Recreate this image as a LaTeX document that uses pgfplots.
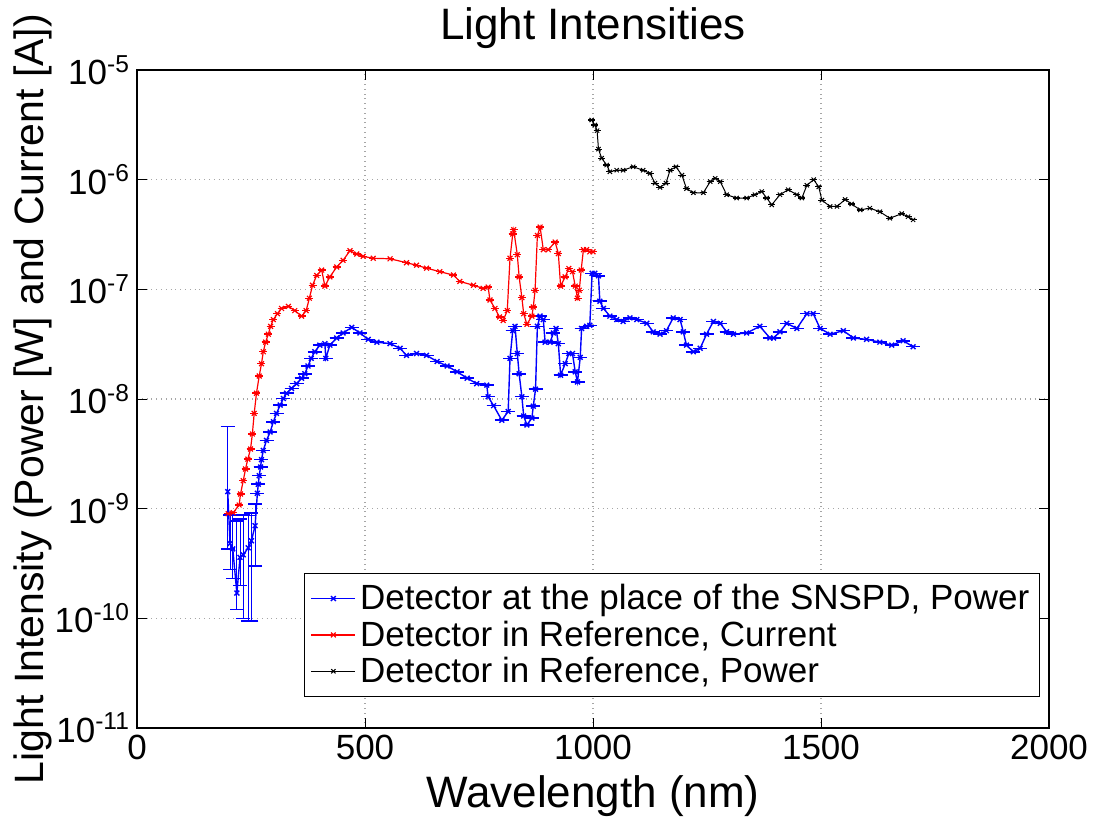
\documentclass[border=0pt]{standalone}
\usepackage{fontspec}
\setmainfont{Liberation Sans}
\usepackage{pgfplots}
\usepackage{pgfplotstable}
\pgfplotsset{compat=1.18}

\pgfplotstableread{
x y ep em
199 1.43e-9 4.2e-9 1.0e-9
204 4.8e-10 4.0e-10 2.0e-10
210 4.3e-10 4.5e-10 2.0e-10
219 1.7e-10 6.0e-10 0.5e-10
226 3.6e-10 4.5e-10 1.6e-10
233 3.8e-10 5.0e-10 2.8e-10
244 4.4e-10 4.3e-10 3.45e-10
251 5.1e-10 4.0e-10 4.15e-10
259 7.0e-10 4.0e-10 4.0e-10
264 1.38e-9 0 0
266 1.67e-9 0 0
268 2.0e-9 0 0
271 2.4e-9 0 0
273 2.8e-9 0 0
277 3.4e-9 0 0
284 4.2e-9 0 0
292 5.0e-9 0 0
299 6.2e-9 0 0
306 7.4e-9 0 0
314 8.8e-9 0 0
321 1.01e-8 0 0
328 1.13e-8 0 0
339 1.25e-8 0 0
350 1.38e-8 0 0
361 1.55e-8 0 0
368 1.7e-8 0 0
375 2.0e-8 0 0
382 2.35e-8 0 0
390 2.7e-8 0 0
401 3.1e-8 0 0
412 3.2e-8 0 0
414 2.35e-8 0 0
423 3.1e-8 0 0
438 3.6e-8 0 0
452 4.0e-8 0 0
471 4.5e-8 0 0
489 4.0e-8 0 0
507 3.5e-8 0 0
526 3.3e-8 0 0
555 3.2e-8 0 0
577 2.9e-8 0 0
591 2.5e-8 0 0
613 2.6e-8 0 0
635 2.5e-8 0 0
658 2.2e-8 0 0
680 2.0e-8 0 0
702 1.77e-8 0 0
724 1.55e-8 0 0
745 1.38e-8 0 0
767 1.34e-8 0 0
770 1.05e-8 0 0
782 8.7e-9 0 0
800 6.4e-9 0 0
814 7.7e-9 0 0
818 2.35e-8 0 0
824 4.2e-8 0 0
829 4.6e-8 0 0
834 2.6e-8 0 0
838 1.7e-8 0 0
844 1.05e-8 0 0
848 7.0e-9 0 0
855 5.8e-9 0 0
866 6.7e-9 0 0
869 8.6e-9 0 0
874 1.23e-8 0 0
878 4.6e-8 0 0
884 5.7e-8 0 0
891 5.3e-8 0 0
895 3.3e-8 0 0
906 3.3e-8 0 0
913 4.0e-8 0 0
919 4.4e-8 0 0
924 3.2e-8 0 0
929 1.65e-8 0 0
939 2.1e-8 0 0
947 2.6e-8 0 0
955 2.6e-8 0 0
961 1.77e-8 0 0
966 1.43e-8 0 0
972 2.4e-8 0 0
975 4.4e-8 0 0
986 4.6e-8 0 0
993 4.7e-8 0 0
998 1.4e-7 0 0
1004 1.4e-7 0 0
1012 1.33e-7 0 0
1015 7.8e-8 0 0
1023 6.7e-8 0 0
1037 5.7e-8 0 0
1052 5.3e-8 0 0
1066 5.1e-8 0 0
1081 5.5e-8 0 0
1096 5.3e-8 0 0
1118 4.9e-8 0 0
1132 4.1e-8 0 0
1147 3.9e-8 0 0
1161 4.2e-8 0 0
1176 5.5e-8 0 0
1191 5.3e-8 0 0
1198 4.1e-8 0 0
1205 3.1e-8 0 0
1220 2.7e-8 0 0
1235 2.9e-8 0 0
1249 3.9e-8 0 0
1264 5.1e-8 0 0
1279 4.9e-8 0 0
1293 4.1e-8 0 0
1308 3.9e-8 0 0
1337 4.0e-8 0 0
1366 4.6e-8 0 0
1388 3.6e-8 0 0
1396 3.6e-8 0 0
1410 4.1e-8 0 0
1425 4.9e-8 0 0
1447 4.4e-8 0 0
1469 6.0e-8 0 0
1483 6.0e-8 0 0
1498 4.4e-8 0 0
1520 3.9e-8 0 0
1549 4.2e-8 0 0
1571 3.6e-8 0 0
1600 3.5e-8 0 0
1629 3.3e-8 0 0
1655 3.1e-8 0 0
1680 3.4e-8 0 0
1702 3.0e-8 0 0
}\bluedata

\pgfplotstableread{
x y
200 9.0e-10
211 9.2e-10
224 1.08e-9
227 1.36e-9
233 1.8e-9
238 2.3e-9
243 2.83e-9
249 3.5e-9
253 4.8e-9
257 7.4e-9
262 1.13e-8
268 1.62e-8
273 2.1e-8
277 2.7e-8
282 3.3e-8
288 3.9e-8
293 4.6e-8
299 5.3e-8
308 6.0e-8
317 6.7e-8
332 7.0e-8
346 6.4e-8
361 5.7e-8
371 6.4e-8
378 8.3e-8
385 1.09e-7
394 1.34e-7
405 1.50e-7
412 1.07e-7
423 1.30e-7
438 1.6e-7
452 1.84e-7
467 2.25e-7
482 2.1e-7
496 2.0e-7
518 1.92e-7
555 1.9e-7
591 1.75e-7
613 1.66e-7
635 1.56e-7
664 1.45e-7
694 1.35e-7
708 1.18e-7
738 1.09e-7
759 1.02e-7
770 1.05e-7
774 8.0e-8
785 6.7e-8
795 5.6e-8
803 5.2e-8
812 6.4e-8
818 1.92e-7
824 3.2e-7
826 3.5e-7
834 2.07e-7
838 1.3e-7
844 8.4e-8
848 6.0e-8
855 4.8e-8
866 5.7e-8
869 6.9e-8
873 9.8e-8
878 3.1e-7
884 3.7e-7
891 2.3e-7
902 2.3e-7
917 2.7e-7
924 2.12e-7
929 1.07e-7
939 1.3e-7
947 1.55e-7
955 1.45e-7
961 1.07e-7
966 8.3e-8
970 9.8e-8
974 1.5e-7
979 2.3e-7
986 2.3e-7
993 2.2e-7
1000 2.2e-7
}\reddata

\pgfplotstableread{
x y
997 3.5e-6
1004 3.15e-6
1009 2.8e-6
1012 1.9e-6
1019 1.57e-6
1030 1.36e-6
1037 1.18e-6
1052 1.22e-6
1066 1.22e-6
1088 1.31e-6
1110 1.22e-6
1125 1.14e-6
1136 9.3e-7
1147 8.5e-7
1160 9.3e-7
1169 1.22e-6
1182 1.31e-6
1195 1.1e-6
1205 8.3e-7
1220 7.6e-7
1242 7.6e-7
1257 9.6e-7
1268 1.03e-6
1279 9.6e-7
1293 7.3e-7
1315 6.8e-7
1337 6.8e-7
1355 7.3e-7
1370 7.8e-7
1381 6.8e-7
1392 5.9e-7
1410 7.3e-7
1428 8.1e-7
1447 7.3e-7
1458 6.8e-7
1469 8.9e-7
1484 1.0e-6
1495 8.6e-7
1502 6.5e-7
1520 5.7e-7
1535 5.7e-7
1553 6.6e-7
1567 6.0e-7
1586 5.3e-7
1607 5.5e-7
1629 5.1e-7
1651 4.45e-7
1677 4.9e-7
1691 4.6e-7
1702 4.3e-7
}\blackdata

\begin{document}
\begin{tikzpicture}
\path[use as bounding box] (-68.5pt,-44.5pt) rectangle (479.5pt,364pt);
\begin{axis}[
  at={(0,0)}, anchor=south west,
  scale only axis, width=456pt, height=329pt,
  xmin=0, xmax=2000, ymin=1e-11, ymax=1e-5,
  ymode=log, log basis y=10,
  xtick={0,500,1000,1500,2000},
  xticklabel={\pgfmathprintnumber[1000 sep={},assume math mode=true]{\tick}},
  minor x tick num=0,
  ytick={1e-11,1e-10,1e-9,1e-8,1e-7,1e-6,1e-5},
  yticklabels={10\textsuperscript{-11},10\textsuperscript{-10},10\textsuperscript{-9},10\textsuperscript{-8},10\textsuperscript{-7},10\textsuperscript{-6},10\textsuperscript{-5}},
  tick label style={font=\fontsize{17.5}{21}\selectfont},
  major tick length=5pt, minor tick length=2.5pt,
  tick style={black, line width=0.5pt},
  axis line style={line width=0.6pt},
  grid=major,
  major grid style={dotted, gray!70, line width=0.6pt},
  title={Light Intensities},
  title style={font=\fontsize{22}{26}\selectfont, at={(axis description cs:0.5,1)}, anchor=center, yshift=15pt},
  xlabel={Wavelength (nm)},
  xlabel style={font=\fontsize{22}{26}\selectfont, at={(axis description cs:0.5,0)}, anchor=center, yshift=-34pt},
  ylabel={Light Intensity (Power [W] and Current [A])},
  ylabel style={font=\fontsize{20.5}{24}\selectfont, at={(axis description cs:0,0.5)}, anchor=center, yshift=52pt},
  legend cell align=left,
  legend style={at={(rel axis cs:0.990,0.047)}, anchor=south east,
    font=\fontsize{17.5}{20.5}\selectfont, draw=black, line width=0.6pt,
    inner xsep=3pt, inner ysep=3.5pt, row sep=0pt},
  legend image code/.code={
    \draw[#1] (0pt,0pt) -- (22pt,0pt);
    \draw[#1, only marks] plot coordinates {(11pt,0pt)};
  },
]
\addplot[blue, line width=0.7pt, mark=x, mark size=1.7pt,
  error bars/.cd, y dir=both, y explicit,
  error bar style={blue, line width=0.5pt},
  error mark options={rotate=90, blue, mark size=3.5pt, line width=0.8pt}]
  table[x=x, y=y, y error plus=ep, y error minus=em] {\bluedata};
\addlegendentry{Detector at the place of the SNSPD, Power}
\addplot[red, line width=0.6pt, mark=x, mark size=1.7pt,
  error bars/.cd, y dir=both, y fixed=0,
  error bar style={red, line width=0.5pt},
  error mark options={rotate=90, red, mark size=2pt, line width=0.7pt}]
  table[x=x, y=y] {\reddata};
\addlegendentry{Detector in Reference, Current}
\addplot[black, line width=0.5pt, mark=x, mark size=1.5pt,
  error bars/.cd, y dir=both, y fixed=0,
  error bar style={black, line width=0.4pt},
  error mark options={rotate=90, black, mark size=1.8pt, line width=0.6pt}]
  table[x=x, y=y] {\blackdata};
\addlegendentry{Detector in Reference, Power}
\end{axis}
\end{tikzpicture}
\end{document}
